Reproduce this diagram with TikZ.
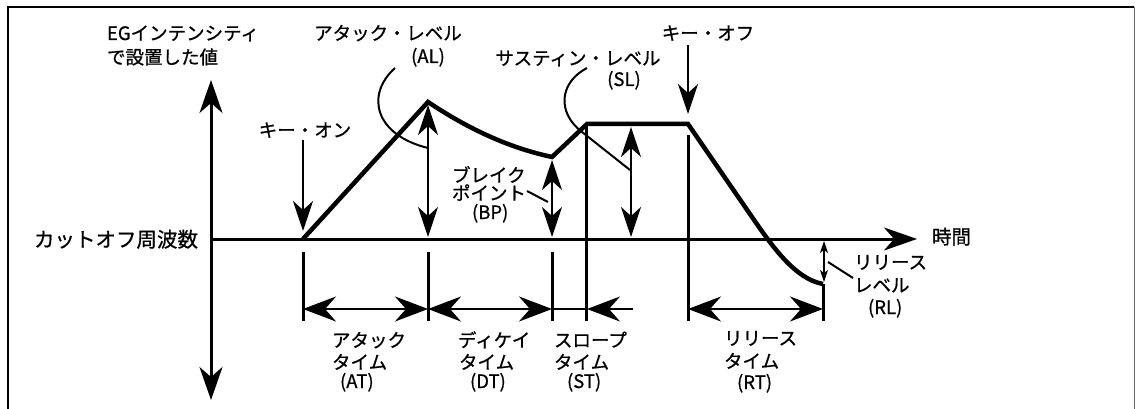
\documentclass[tikz,border=0pt]{standalone}
\usepackage{fontspec}
\newfontfamily\jp{Noto Sans CJK JP}[FakeBold=0.8]
\usetikzlibrary{arrows.meta}
\tikzset{
  axtip/.tip={Stealth[length=33pt,width=23pt,inset=10pt]},
  dtip/.tip={Stealth[length=30pt,width=20pt,inset=9pt]},
  ttip/.tip={Stealth[length=33pt,width=25pt,inset=11pt]},
  stip/.tip={Stealth[length=12pt,width=8pt,inset=3pt]},
  lbl/.style={font=\jp\fontsize{18.5}{21}\selectfont, inner sep=0pt, outer sep=0pt},
  env/.style={line width=4.5pt, line join=miter},
  axisline/.style={line width=3pt},
  tick/.style={line width=3pt},
  dblarrow/.style={line width=2.6pt, {dtip}-{dtip}},
  tarrow/.style={line width=2.6pt},
  pointer/.style={line width=2pt},
  frameline/.style={line width=2.5pt}
}
\begin{document}
\begin{tikzpicture}[x=1pt,y=-1pt]
\useasboundingbox (0,0) rectangle (1135,409);
% frame
\coordinate (f1) at (8,412);
\coordinate (f2) at (8,7);
\coordinate (f3) at (1134,7);
\coordinate (f4) at (1134,412);
\draw[frameline] (f1) -- (f2) -- (f3);
\draw[line width=1pt, black!60] (f3) -- (f4);

% key points
\coordinate (O) at (211,239);
\coordinate (tend) at (917,239);
\coordinate (vtop) at (211,80);
\coordinate (vbot) at (211,400);
\coordinate (on) at (303,239);
\coordinate (pk) at (428,102);
\coordinate (bp) at (552,157);
\coordinate (s1) at (587,124);
\coordinate (s2) at (688,124);
\coordinate (r1) at (752,217);
\coordinate (rl) at (823,284);

% axes
\draw[axisline, -{axtip}] (O) -- (tend);
\draw[axisline, {axtip}-{axtip}] (vbot) -- (vtop);

% envelope
\draw[env] (on) -- (pk) .. controls (470,130) and (510,148) .. (bp) -- (s1) -- (s2) -- (r1) .. controls (772,246) and (795,279) .. (rl);

% ticks
\coordinate (t1a) at (303,252); \coordinate (t1b) at (303,321);
\coordinate (t2a) at (428,252); \coordinate (t2b) at (428,321);
\coordinate (t3a) at (552,252); \coordinate (t3b) at (552,321);
\coordinate (t4a) at (586,126); \coordinate (t4b) at (586,321);
\coordinate (t5a) at (688,135); \coordinate (t5b) at (688,321);
\coordinate (t6a) at (823,284); \coordinate (t6b) at (823,321);
\draw[tick] (t1a) -- (t1b);
\draw[tick] (t2a) -- (t2b);
\draw[tick] (t3a) -- (t3b);
\draw[tick] (t4a) -- (t4b);
\draw[tick] (t5a) -- (t5b);
\draw[tick] (t6a) -- (t6b);

% level double arrows
\coordinate (al1) at (428,105); \coordinate (al2) at (428,237);
\coordinate (bp1) at (552,160); \coordinate (bp2) at (552,237);
\coordinate (sl1) at (631,127); \coordinate (sl2) at (631,237);
\draw[dblarrow] (al2) -- (al1);
\draw[dblarrow] (bp2) -- (bp1);
\draw[dblarrow] (sl2) -- (sl1);
\coordinate (rla) at (824,241); \coordinate (rlb) at (824,282);
\draw[line width=1.2pt, {stip}-{stip}] (rla) -- (rlb);

% key on / off arrows
\coordinate (kona) at (303,140); \coordinate (konb) at (303,231);
\coordinate (koffa) at (688,45); \coordinate (koffb) at (688,114);
\draw[line width=2.6pt, -{dtip}] (kona) -- (konb);
\draw[line width=2.6pt, -{dtip}] (koffa) -- (koffb);

% time arrows
\coordinate (ta) at (303,309);
\coordinate (tb) at (428,309);
\coordinate (tc) at (552,309);
\coordinate (td) at (587,309);
\coordinate (te) at (633,309);
\coordinate (tf) at (688,309);
\coordinate (tg) at (823,309);
\draw[tarrow, {ttip}-{ttip}] (ta) -- (tb);
\draw[tarrow, {ttip}-{ttip}] (tb) -- (tc);
\draw[tarrow] (tc) -- (td);
\draw[tarrow, -{ttip}] (te) -- (td);
\draw[tarrow, {ttip}-{ttip}] (tf) -- (tg);

% pointer curves
\coordinate (alp0) at (395,68); \coordinate (alp1) at (428,148);
\draw[pointer] (alp0) .. controls (365,95) and (375,135) .. (alp1);
\coordinate (slp0) at (587,68); \coordinate (slp1) at (582,132); \coordinate (slp2) at (630,170);
\draw[pointer] (slp0) .. controls (560,82) and (556,112) .. (slp1) -- (slp2);
\coordinate (bpA) at (527,191); \coordinate (bpB) at (548,202);
\draw[pointer] (bpA) -- (bpB);
\coordinate (rlA) at (828,262); \coordinate (rlB) at (853,278);
\draw[pointer] (rlA) -- (rlB);

% labels
\node[lbl, anchor=base west] (eg1) at (107,40) {EGインテンシティ};
\node[lbl, anchor=base west] (eg2) at (107,64) {で設置した値};
\node[lbl, anchor=base] (ALa) at (388,40) {アタック・レベル};
\node[lbl, anchor=base] (ALb) at (428,63) {(AL)};
\node[lbl, anchor=base] (SLa) at (578,65) {サスティン・レベル};
\node[lbl, anchor=base] (SLb) at (624,86) {(SL)};
\node[lbl, anchor=base] (koff) at (708,40) {キー・オフ};
\node[lbl, anchor=base] (kon) at (305,137) {キー・オン};
\node[lbl, anchor=base west] (BPa) at (452,182) {ブレイク};
\node[lbl, anchor=base west] (BPb) at (452,200) {ポイント};
\node[lbl, anchor=base west] (BPc) at (472,219) {(BP)};
\node[lbl, anchor=base, font=\jp\fontsize{20.5}{22}\selectfont] (cut) at (116,247) {カットオフ周波数};
\node[lbl, anchor=base west, font=\jp\fontsize{19.5}{21}\selectfont] (jikan) at (932,244) {時間};
\node[lbl, anchor=base west] (ATa) at (332,347) {アタック};
\node[lbl, anchor=base west] (ATb) at (332,369) {タイム};
\node[lbl, anchor=base west] (ATc) at (340,388) {(AT)};
\node[lbl, anchor=base west] (DTa) at (458,347) {ディケイ};
\node[lbl, anchor=base west] (DTb) at (459,369) {タイム};
\node[lbl, anchor=base west] (DTc) at (470,388) {(DT)};
\node[lbl, anchor=base west] (STa) at (554,347) {スロープ};
\node[lbl, anchor=base west] (STb) at (554,369) {タイム};
\node[lbl, anchor=base west] (STc) at (567,388) {(ST)};
\node[lbl, anchor=base west] (RTa) at (724,345) {リリース};
\node[lbl, anchor=base west] (RTb) at (724,368) {タイム};
\node[lbl, anchor=base west] (RTc) at (737,389) {(RT)};
\node[lbl, anchor=base west] (RLa) at (854,269) {リリース};
\node[lbl, anchor=base west] (RLb) at (854,292) {レベル};
\node[lbl, anchor=base west] (RLc) at (868,314) {(RL)};
\end{tikzpicture}
\end{document}
